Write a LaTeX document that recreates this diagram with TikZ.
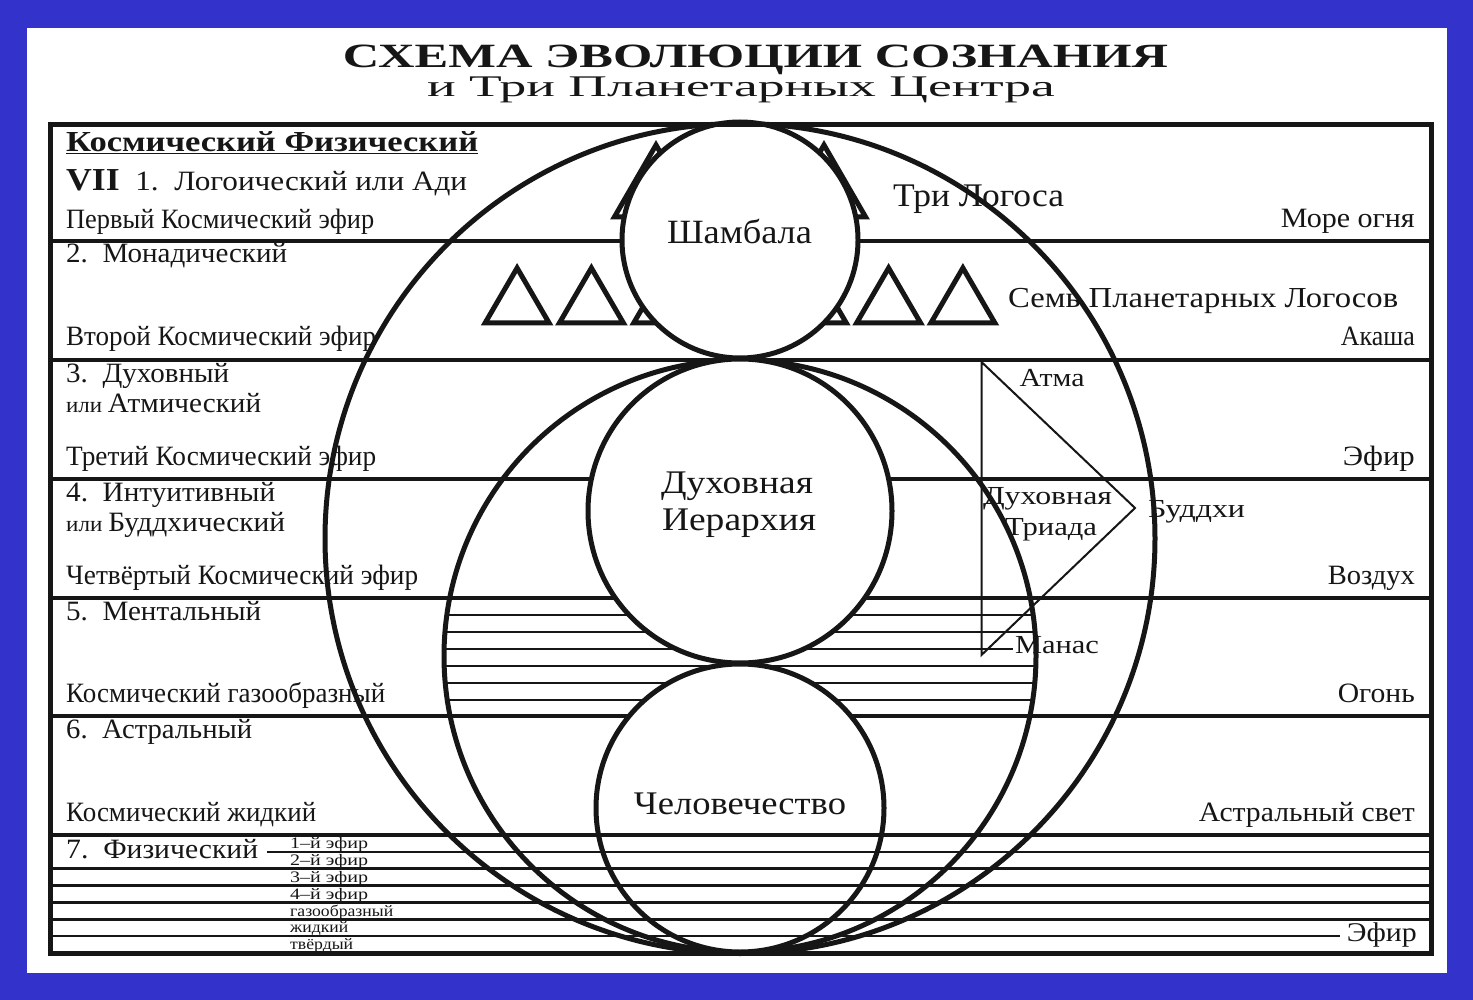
\documentclass[tikz,border=0pt]{standalone}
\usepackage{fontspec}
\usepackage{graphicx}
\setmainfont{Liberation Serif}
\definecolor{bgblue}{RGB}{51,51,204}
\definecolor{ink}{RGB}{22,22,22}
\newcommand\fs[1]{\fontsize{#1pt}{#1pt}\selectfont}
\newcommand\fw[2]{\resizebox{#1pt}{\height}{#2}}
\tikzset{
  frameline/.style={line width=5pt, draw=ink},
  layerline/.style={line width=4.5pt, draw=ink},
  subline/.style={line width=2.6pt, draw=ink},
  hatchline/.style={line width=2pt, draw=ink},
  ringline/.style={line width=5pt, draw=ink},
  disc/.style={line width=5pt, draw=ink, fill=white},
  tribox/.style={line width=5pt, draw=ink, line join=miter},
  triadline/.style={line width=2pt, draw=ink},
  lbl/.style={inner sep=0pt, anchor=base west, text=ink},
  rlbl/.style={inner sep=0pt, anchor=base east, text=ink},
  clbl/.style={inner sep=0pt, anchor=base, text=ink},
}
\begin{document}
\begin{tikzpicture}[x=1pt,y=-1pt]
\useasboundingbox (0,0) rectangle (1473,1000);
\fill[bgblue] (0,0) rectangle (1473,1000);
\fill[white] (27,28) rectangle (1447,973);

% hatch inside the middle circle
\begin{scope}
  \clip (740,656) circle[radius=296pt];
  \foreach \y in {614.5,631.5,665.5,682.5,699.5}
    \draw[hatchline] (400,\y) -- (1100,\y);
  \draw[hatchline] (400,648.5) -- (1013,648.5);
\end{scope}

% layer lines
\foreach \y in {241,360,479,598,716}
  \draw[layerline] (50.5,\y) -- (1431,\y);

% three Logos triangles
\foreach \c in {656,740,824}
  \draw[tribox] (\c,145) -- ++(41.6,72) -- ++(-83.2,0) -- cycle;
% seven planetary Logos triangles
\foreach \i in {-3,...,3}
  \draw[tribox] ({740+74.3*\i},268) -- ++(32,55) -- ++(-64,0) -- cycle;

% big open circles
\draw[ringline] (740,538.5) circle[radius=415pt];
\draw[ringline] (740,656) circle[radius=296pt];

% filled circles
\draw[disc] (740,240) circle[radius=118pt];
\draw[disc] (740,511) circle[radius=152pt];
\draw[disc] (740,808) circle[radius=144pt];

% physical plane sub-layers
\draw[layerline] (50.5,835) -- (1431,835);
\draw[subline] (267,851.9) -- (1431,851.9);
\foreach \y in {868.7,885.6,902.4,919.3}
  \draw[subline] (50.5,\y) -- (1431,\y);
\draw[subline] (50.5,936.1) -- (1340,936.1);

% outer frame
\draw[frameline] (50.5,124.5) rectangle (1431,953);

% spiritual triad
\draw[triadline] (981.5,362) -- (981.5,655) -- (1135,508) -- cycle;

% title
\node[clbl] (title) at (755.5,68) {\fw{825}{\fs{34}\bfseries СХЕМА ЭВОЛЮЦИИ СОЗНАНИЯ}};
\node[clbl] (subtitle) at (741,97) {\fw{628}{\fs{30}и Три Планетарных Центра}};

% left labels
\node[lbl] (kf) at (66,152) {\fw{412}{\fs{29}\bfseries\underline{Космический Физический}}};
\node[lbl] (l1) at (66,191) {\fw{401}{\fs{32}\bfseries VII\fs{28}\mdseries\ \ 1.\ \ Логоический или Ади}};
\node[lbl] (s1) at (66,229) {\fw{308}{\fs{28}Первый Космический эфир}};
\node[lbl] (l2) at (66,263) {\fw{221}{\fs{28}2.\ \ Монадический}};
\node[lbl] (s2) at (66,346) {\fw{310}{\fs{28}Второй Космический эфир}};
\node[lbl] (l3) at (66,382) {\fw{163}{\fs{28}3.\ \ Духовный}};
\node[lbl] (l3b) at (66,412) {\fw{195}{\fs{22}или \fs{28}Атмический}};
\node[lbl] (s3) at (66,465) {\fw{310}{\fs{28}Третий Космический эфир}};
\node[lbl] (l4) at (66,501) {\fw{209}{\fs{28}4.\ \ Интуитивный}};
\node[lbl] (l4b) at (66,531) {\fw{219}{\fs{22}или \fs{28}Буддхический}};
\node[lbl] (s4) at (66,584) {\fw{352}{\fs{28}Четвёртый Космический эфир}};
\node[lbl] (l5) at (66,620) {\fw{195}{\fs{28}5.\ \ Ментальный}};
\node[lbl] (s5) at (66,702) {\fw{319}{\fs{28}Космический газообразный}};
\node[lbl] (l6) at (66,738) {\fw{186}{\fs{28}6.\ \ Астральный}};
\node[lbl] (s6) at (66,821) {\fw{250}{\fs{28}Космический жидкий}};
\node[lbl] (l7) at (66,858) {\fw{192}{\fs{28}7.\ \ Физический}};

% sub-layer labels
\node[lbl] (p1) at (290,848) {\fw{78}{\fs{16}1–й эфир}};
\node[lbl] (p2) at (290,865) {\fw{78}{\fs{16}2–й эфир}};
\node[lbl] (p3) at (290,882) {\fw{78}{\fs{16}3–й эфир}};
\node[lbl] (p4) at (290,899) {\fw{78}{\fs{16}4–й эфир}};
\node[lbl] (p5) at (290,916) {\fw{103}{\fs{16}газообразный}};
\node[lbl] (p6) at (290,932.5) {\fw{58}{\fs{16}жидкий}};
\node[lbl] (p7) at (290,949) {\fw{63}{\fs{16}твёрдый}};

% right labels
\node[rlbl] (r1) at (1415,228) {\fw{134}{\fs{28}Море огня}};
\node[rlbl] (r2) at (1415,346) {\fw{74}{\fs{28}Акаша}};
\node[rlbl] (r3) at (1415,465) {\fw{72}{\fs{28}Эфир}};
\node[rlbl] (r4) at (1415,584) {\fw{87}{\fs{28}Воздух}};
\node[rlbl] (r5) at (1415,702) {\fw{77}{\fs{28}Огонь}};
\node[rlbl] (r6) at (1415,821) {\fw{216}{\fs{28}Астральный свет}};
\node[rlbl] (r7) at (1417,941) {\fw{70}{\fs{27}Эфир}};

% centre labels
\node[clbl] (shamb) at (739.5,244) {\fw{145}{\fs{34}Шамбала}};
\node[clbl] (hier1) at (737,493) {\fw{152}{\fs{33}Духовная}};
\node[clbl] (hier2) at (739,530) {\fw{154}{\fs{33}Иерархия}};
\node[clbl] (human) at (740,814) {\fw{212}{\fs{33}Человечество}};
\node[clbl] (tri3) at (978.5,207) {\fw{171}{\fs{33}Три Логоса}};
\node[lbl] (sem7) at (1008,308) {\fw{390}{\fs{29}Семь Планетарных Логосов}};

% triad labels
\node[clbl] (atma) at (1052,386) {\fw{65}{\fs{26}Атма}};
\node[clbl] (tr1) at (1047.5,504) {\fw{129}{\fs{26}Духовная}};
\node[clbl] (tr2) at (1051,535) {\fw{92}{\fs{26}Триада}};
\node[clbl] (budd) at (1196.5,517) {\fw{97}{\fs{26}Буддхи}};
\node[clbl] (manas) at (1057,653) {\fw{84}{\fs{26}Манас}};
\end{tikzpicture}
\end{document}
